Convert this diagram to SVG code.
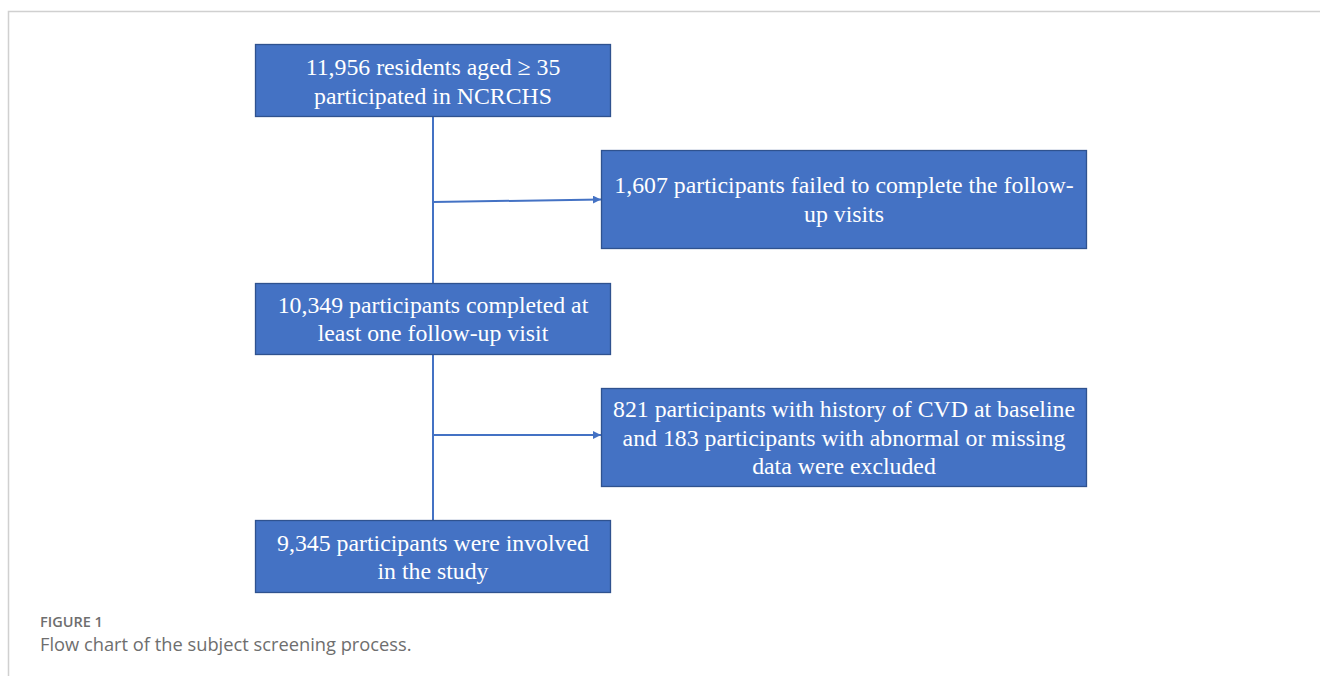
<svg xmlns="http://www.w3.org/2000/svg" width="1320" height="676" viewBox="0 0 1320 676">
<style>
.box{fill:#4472C4;stroke:#2F528F;stroke-width:1.3}
.t{font-family:"Liberation Serif","Times New Roman",serif;font-size:23.8px;fill:#fff;text-anchor:middle}
.ln{stroke:#4472C4;stroke-width:2;fill:none}
.cap1{font-family:"Open Sans",sans-serif;font-size:14.5px;font-weight:600;fill:#6e6e6e}
.cap2{font-family:"Open Sans",sans-serif;font-size:18.3px;fill:#6e6e6e}
</style>
<defs>
<marker id="ah" viewBox="0 0 10 10" refX="10" refY="5" markerWidth="4" markerHeight="4" orient="auto" markerUnits="strokeWidth">
<path d="M0,0 L10,5 L0,10 z" fill="#4472C4"/>
</marker>
</defs>
<rect width="1320" height="676" fill="#fff"/>
<path d="M8.5,676 V11.5 H1320" fill="none" stroke="#d0d0d0" stroke-width="1.5"/>
<g id="connectors">
<line class="ln" x1="433" y1="117" x2="433" y2="283"/>
<line class="ln" x1="433" y1="202" x2="601" y2="199.5" marker-end="url(#ah)"/>
<line class="ln" x1="433" y1="355" x2="433" y2="520"/>
<line class="ln" x1="433" y1="435" x2="601" y2="435" marker-end="url(#ah)"/>
</g>
<g id="n1">
<rect class="box" x="255.5" y="44.5" width="355" height="72"/>
<text class="t" x="433" y="75">11,956 residents aged ≥ 35</text>
<text class="t" x="433" y="103.5">participated in NCRCHS</text>
</g>
<g id="n2">
<rect class="box" x="601.5" y="150.5" width="485" height="98"/>
<text class="t" x="844" y="193">1,607 participants failed to complete the follow-</text>
<text class="t" x="844" y="221.5">up visits</text>
</g>
<g id="n3">
<rect class="box" x="255.5" y="283.5" width="355" height="71"/>
<text class="t" x="433" y="312.5">10,349 participants completed at</text>
<text class="t" x="433" y="341">least one follow-up visit</text>
</g>
<g id="n4">
<rect class="box" x="601.5" y="388.5" width="485" height="98"/>
<text class="t" x="844" y="417">821 participants with history of CVD at baseline</text>
<text class="t" x="844" y="445.5">and 183 participants with abnormal or missing</text>
<text class="t" x="844" y="474">data were excluded</text>
</g>
<g id="n5">
<rect class="box" x="255.5" y="520.5" width="355" height="72"/>
<text class="t" x="433" y="550.5">9,345 participants were involved</text>
<text class="t" x="433" y="579">in the study</text>
</g>
<g id="caption">
<text class="cap1" x="40" y="627">FIGURE 1</text>
<text class="cap2" x="40" y="651">Flow chart of the subject screening process.</text>
</g>
</svg>
